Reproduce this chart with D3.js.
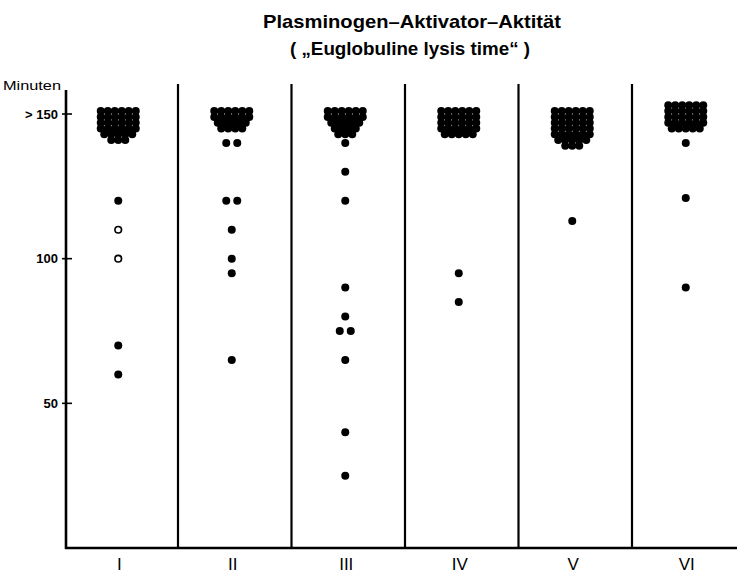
<!DOCTYPE html>
<html>
<head>
<meta charset="utf-8">
<script src="https://cdn.jsdelivr.net/npm/d3@7"></script>
<style>
  body { margin: 0; background: #fff; }
  svg { display: block; }
  text { font-family: "Liberation Sans Narrow", "Liberation Sans", Arial, sans-serif; fill: #000; }
</style>
</head>
<body>
<svg id="chart" width="737" height="575"></svg>
<script>
// Groups (patient collectives)
const categories = ["I", "II", "III", "IV", "V", "VI"];

// y axis ticks
const yTicks = [150, 100, 50];
const yTickLabels = ["> 150", "100", "50"];

// Lysis times (minutes), one entry per patient.
// Dense stacks at the top are the "> 150" results.
const clusterI   = [151,151,151,151,151,151, 149,149,149,149,149,149, 147,147,147,147,147,147,
                    145,145,145,145,145,145, 143,143,143,143,143, 141,141,141];
const clusterII  = [151,151,151,151,151,151, 149,149,149,149,149,149, 147,147,147,147,147,
                    145,145,145,145];
const clusterIII = [151,151,151,151,151,151, 149,149,149,149,149,149, 147,147,147,147,147,
                    145,145,145,145, 143,143,143];
const clusterIV  = [151,151,151,151,151,151, 149,149,149,149,149,149, 147,147,147,147,147,147,
                    145,145,145,145,145,145, 143,143,143,143,143];
const clusterV   = [151,151,151,151,151,151, 149,149,149,149,149,149, 147,147,147,147,147,147,
                    145,145,145,145,145,145, 143,143,143,143,143,143, 141,141,141,141,141, 139,139,139];
const clusterVI  = [153,153,153,153,153,153, 151,151,151,151,151,151, 149,149,149,149,149,149,
                    147,147,147,147,147,147, 145,145,145,145,145];

// Individual values below the stacks (filled dots)
const scatterI   = [120, 70, 60];
const scatterII  = [140, 140, 120, 120, 110, 100, 95, 65];
const scatterIII = [140, 130, 120, 90, 80, 75, 75, 65, 40, 25];
const scatterIV  = [95, 85];
const scatterV   = [113];
const scatterVI  = [140, 121, 90];

// Open circles
const openI = [110, 100];

const clusters = [clusterI, clusterII, clusterIII, clusterIV, clusterV, clusterVI];
const scatters = [scatterI, scatterII, scatterIII, scatterIV, scatterV, scatterVI];
const opens    = [openI, [], [], [], [], []];

const svg = d3.select("#chart");
svg.append("rect").attr("width", 737).attr("height", 575).attr("fill", "#fff");

const x = d3.scaleBand().domain(categories).range([64.5, 745.5]).padding(0);
const y = d3.scaleLinear().domain([0, 150]).range([548, 114]);

const dotR = 4;
const clusterPitch = 7;
const scatterPitch = 11;
const dotShift = -3;

// Place dots that share a value side by side around the group centre
function layout(values, cat, pitch) {
  const cx = x(cat) + x.bandwidth() / 2 + dotShift;
  const byValue = d3.group(values, v => v);
  const out = [];
  for (const [v, arr] of byValue) {
    const n = arr.length;
    arr.forEach((_, i) => out.push({ v, cx: cx + (i - (n - 1) / 2) * pitch }));
  }
  return out;
}

// Title
svg.append("text")
  .attr("x", 412).attr("y", 28)
  .attr("text-anchor", "middle")
  .attr("textLength", 298).attr("lengthAdjust", "spacingAndGlyphs")
  .style("font-size", "19px").style("font-weight", "bold")
  .text("Plasminogen\u2013Aktivator\u2013Aktität");
svg.append("text")
  .attr("x", 410).attr("y", 55)
  .attr("text-anchor", "middle")
  .attr("textLength", 240).attr("lengthAdjust", "spacingAndGlyphs")
  .style("font-size", "19px").style("font-weight", "bold")
  .text("( \u201EEuglobuline lysis time\u201C )");

// Separators between groups
svg.append("g")
  .selectAll("line")
  .data(categories.slice(1))
  .join("line")
  .attr("x1", d => x(d)).attr("x2", d => x(d))
  .attr("y1", 84).attr("y2", 548)
  .attr("stroke", "#000").attr("stroke-width", 2.2);

// y axis
const yAxis = svg.append("g");
yAxis.append("line")
  .attr("x1", 66).attr("x2", 66).attr("y1", 90).attr("y2", 549)
  .attr("stroke", "#000").attr("stroke-width", 2.6);
yAxis.selectAll("line.tick")
  .data(yTicks)
  .join("line")
  .attr("class", "tick")
  .attr("x1", 62).attr("x2", 72)
  .attr("y1", d => y(d)).attr("y2", d => y(d))
  .attr("stroke", "#000").attr("stroke-width", 1.6);
yAxis.selectAll("text.tl")
  .data(yTicks)
  .join("text")
  .attr("class", "tl")
  .attr("x", 58).attr("y", d => y(d) + 4.5)
  .attr("text-anchor", "end")
  .style("font-size", "13px").style("font-weight", "bold")
  .text((d, i) => yTickLabels[i]);
svg.append("text")
  .attr("x", 3).attr("y", 90)
  .attr("textLength", 58).attr("lengthAdjust", "spacingAndGlyphs")
  .style("font-size", "13px")
  .text("Minuten");

// x axis
svg.append("line")
  .attr("x1", 65).attr("x2", 737).attr("y1", 548).attr("y2", 548)
  .attr("stroke", "#000").attr("stroke-width", 2.6);
svg.append("g")
  .selectAll("text")
  .data(categories)
  .join("text")
  .attr("x", d => x(d) + x.bandwidth() / 2 - 2)
  .attr("y", 570)
  .attr("text-anchor", "middle")
  .style("font-size", "17px")
  .text(d => d);

// Dots
const dots = svg.append("g");
categories.forEach((cat, i) => {
  const pts = layout(clusters[i], cat, clusterPitch).concat(layout(scatters[i], cat, scatterPitch));
  dots.append("g")
    .selectAll("circle")
    .data(pts)
    .join("circle")
    .attr("cx", d => d.cx).attr("cy", d => y(d.v))
    .attr("r", dotR).attr("fill", "#000");
  dots.append("g")
    .selectAll("circle")
    .data(layout(opens[i], cat, scatterPitch))
    .join("circle")
    .attr("cx", d => d.cx).attr("cy", d => y(d.v))
    .attr("r", 3.3).attr("fill", "#fff")
    .attr("stroke", "#000").attr("stroke-width", 1.6);
});
</script>
</body>
</html>
